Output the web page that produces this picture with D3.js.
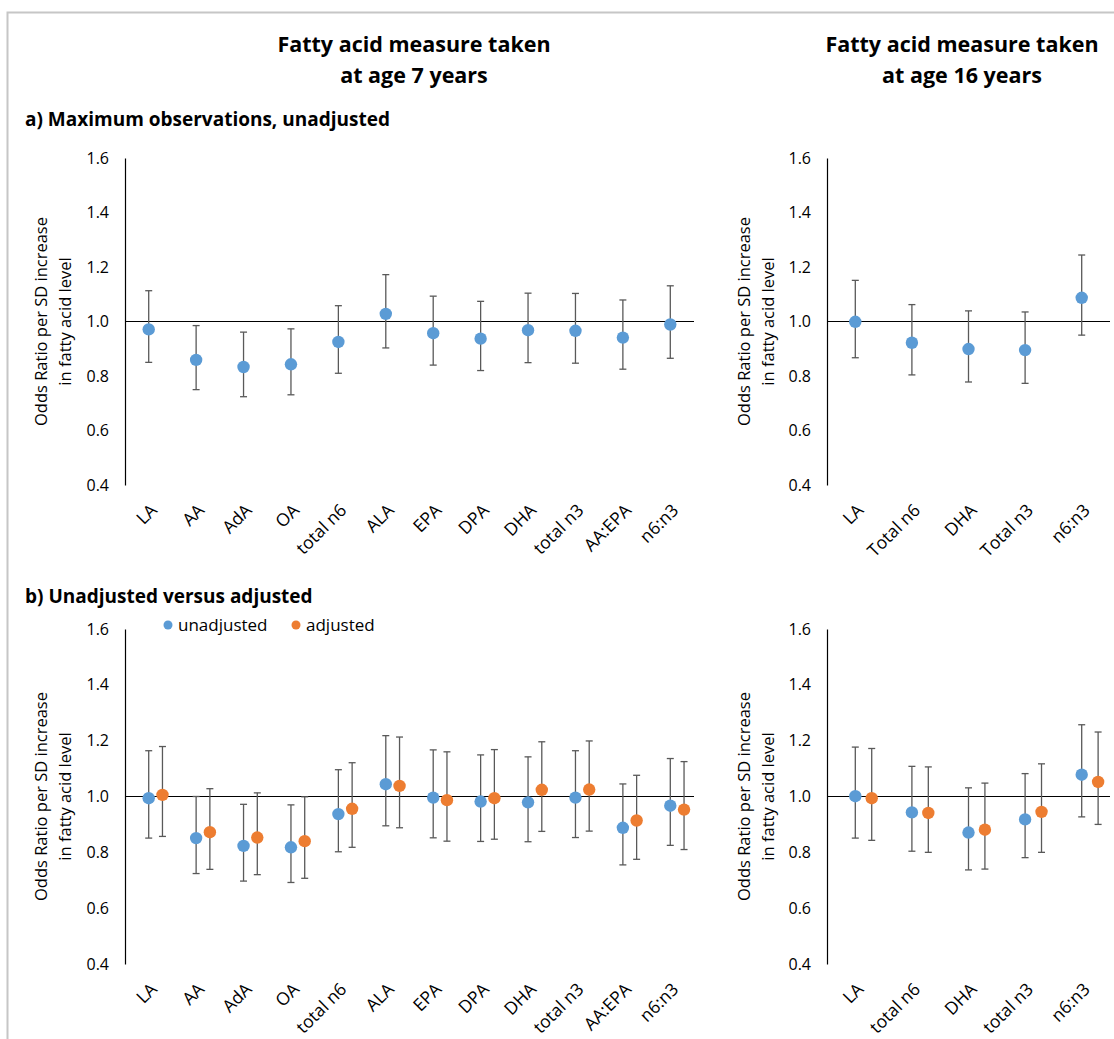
<!DOCTYPE html>
<html>
<head>
<meta charset="utf-8">
<script src="https://cdn.jsdelivr.net/npm/d3@7"></script>
<style>
  body { margin: 0; background: #fff; }
  svg text { font-family: "Open Sans", sans-serif; fill: #000; }
</style>
</head>
<body>
<div id="chart"></div>
<script>
'use strict';

// y ticks shared by all four panels
const yTicks = [0.4, 0.6, 0.8, 1.0, 1.2, 1.4, 1.6];

// a) age 7, unadjusted
const cats7 = ['LA', 'AA', 'AdA', 'OA', 'total n6', 'ALA', 'EPA', 'DPA', 'DHA', 'total n3', 'AA:EPA', 'n6:n3'];
const or7a = [0.971, 0.859, 0.833, 0.843, 0.925, 1.028, 0.957, 0.937, 0.968, 0.966, 0.941, 0.989];
const lo7a = [0.850, 0.750, 0.724, 0.731, 0.810, 0.903, 0.840, 0.820, 0.849, 0.847, 0.825, 0.865];
const hi7a = [1.113, 0.985, 0.961, 0.973, 1.058, 1.172, 1.093, 1.074, 1.104, 1.103, 1.079, 1.131];

// a) age 16, unadjusted
const cats16a = ['LA', 'Total n6', 'DHA', 'Total n3', 'n6:n3'];
const or16a = [0.999, 0.922, 0.899, 0.895, 1.087];
const lo16a = [0.867, 0.804, 0.778, 0.773, 0.950];
const hi16a = [1.151, 1.062, 1.039, 1.035, 1.244];

// b) age 7, unadjusted vs adjusted
const or7u = [0.994, 0.851, 0.823, 0.818, 0.937, 1.044, 0.996, 0.982, 0.979, 0.996, 0.888, 0.967];
const lo7u = [0.851, 0.724, 0.697, 0.692, 0.802, 0.895, 0.852, 0.839, 0.838, 0.853, 0.755, 0.825];
const hi7u = [1.164, 1.000, 0.972, 0.970, 1.096, 1.218, 1.167, 1.149, 1.142, 1.164, 1.045, 1.136];
const or7adj = [1.006, 0.872, 0.853, 0.840, 0.956, 1.038, 0.987, 0.994, 1.024, 1.025, 0.914, 0.953];
const lo7adj = [0.857, 0.739, 0.720, 0.707, 0.818, 0.888, 0.840, 0.847, 0.875, 0.876, 0.775, 0.810];
const hi7adj = [1.179, 1.028, 1.013, 0.999, 1.121, 1.213, 1.160, 1.168, 1.196, 1.199, 1.076, 1.125];

// b) age 16, unadjusted vs adjusted
const cats16b = ['LA', 'total n6', 'DHA', 'total n3', 'n6:n3'];
const or16u = [1.001, 0.943, 0.871, 0.918, 1.078];
const lo16u = [0.851, 0.804, 0.737, 0.781, 0.927];
const hi16u = [1.177, 1.108, 1.031, 1.082, 1.257];
const or16adj = [0.994, 0.941, 0.881, 0.945, 1.052];
const lo16adj = [0.843, 0.800, 0.740, 0.800, 0.900];
const hi16adj = [1.172, 1.106, 1.048, 1.117, 1.231];

const blue = '#5b9bd5', orange = '#ed7d31', barColor = '#595959';

const svg = d3.select('#chart').append('svg')
  .attr('width', 1114)
  .attr('height', 1039);

// frame (only top and left edges are in view)
svg.append('path')
  .attr('d', 'M7.5,1039V12.5H1114')
  .attr('fill', 'none')
  .attr('stroke', '#c6c6c6')
  .attr('stroke-width', 2);

// column titles
const titles = [
  { x: 414, lines: ['Fatty acid measure taken', 'at age 7 years'] },
  { x: 962, lines: ['Fatty acid measure taken', 'at age 16 years'] }
];
titles.forEach(t => {
  t.lines.forEach((s, i) => {
    svg.append('text')
      .attr('x', t.x).attr('y', 52 + i * 31)
      .attr('text-anchor', 'middle')
      .style('font-size', '21.5px').style('font-weight', 'bold')
      .text(s);
  });
});

svg.append('text').attr('x', 25).attr('y', 126)
  .style('font-size', '19px').style('font-weight', 'bold')
  .text('a) Maximum observations, unadjusted');
svg.append('text').attr('x', 25).attr('y', 603)
  .style('font-size', '19px').style('font-weight', 'bold')
  .text('b) Unadjusted versus adjusted');

// legend for panel b
const legend = [
  { x: 168, label: 'unadjusted', color: blue },
  { x: 296, label: 'adjusted', color: orange }
];
legend.forEach(l => {
  svg.append('circle').attr('cx', l.x).attr('cy', 625).attr('r', 4.5).attr('fill', l.color);
  svg.append('text').attr('x', l.x + 10).attr('y', 631)
    .style('font-size', '17px')
    .text(l.label);
});

const drawPanel = (opt) => {
  let xScale = d3.scaleBand()
    .domain(opt.cats)
    .range([opt.left, opt.right]);

  let yScale = d3.scaleLinear()
    .domain([0.4, 1.6])
    .range([opt.bottom, opt.top]);

  let g = svg.append('g');

  // y axis
  let yAxis = g.append('g')
    .attr('transform', 'translate(' + opt.left + ',0)')
    .call(d3.axisLeft(yScale).tickValues(yTicks).tickSize(0).tickSizeOuter(0)
      .tickPadding(16).tickFormat(d3.format('.1f')));
  yAxis.select('.domain').attr('stroke', '#000').attr('stroke-width', 1.2);
  yAxis.selectAll('text').style('font-size', '16px').style('font-family', '"Open Sans", sans-serif').attr('fill', '#000');

  // reference line at 1.0
  g.append('line')
    .attr('x1', opt.left).attr('x2', opt.right)
    .attr('y1', yScale(1)).attr('y2', yScale(1))
    .attr('stroke', '#000').attr('stroke-width', 1.2);

  // y title, two lines
  let yMid = (opt.top + opt.bottom) / 2;
  ['Odds Ratio per SD increase', 'in fatty acid level'].forEach((s, i) => {
    g.append('text')
      .attr('transform', 'translate(' + (opt.labelX + i * 24) + ',' + yMid + ') rotate(-90)')
      .attr('text-anchor', 'middle')
      .attr('dy', '0.35em')
      .style('font-size', '16.5px')
      .text(s);
  });

  // category labels
  g.selectAll('.cat')
    .data(opt.cats)
    .enter().append('text')
    .attr('transform', d => 'translate(' + (xScale(d) + xScale.bandwidth() / 2 + 5) + ',' + (opt.bottom + 22) + ') rotate(-45)')
    .attr('text-anchor', 'end')
    .attr('dy', '0.35em')
    .style('font-size', '17.5px')
    .text(d => d);

  // series: error bars and points
  opt.series.forEach(s => {
    let data = opt.cats.map((c, i) => ({ c: c, v: s.or[i], lo: s.lo[i], hi: s.hi[i] }));
    let cx = d => xScale(d.c) + xScale.bandwidth() / 2 + s.shift * xScale.bandwidth();

    let bars = g.append('g').attr('stroke', barColor).attr('stroke-width', 1.3);
    bars.selectAll('.bar').data(data).enter().append('line')
      .attr('x1', cx).attr('x2', cx)
      .attr('y1', d => yScale(d.lo)).attr('y2', d => yScale(d.hi));
    bars.selectAll('.capHi').data(data).enter().append('line')
      .attr('x1', d => cx(d) - 3.5).attr('x2', d => cx(d) + 3.5)
      .attr('y1', d => yScale(d.hi)).attr('y2', d => yScale(d.hi));
    bars.selectAll('.capLo').data(data).enter().append('line')
      .attr('x1', d => cx(d) - 3.5).attr('x2', d => cx(d) + 3.5)
      .attr('y1', d => yScale(d.lo)).attr('y2', d => yScale(d.lo));

    g.append('g').selectAll('circle').data(data).enter().append('circle')
      .attr('cx', cx)
      .attr('cy', d => yScale(d.v))
      .attr('r', 6.2)
      .attr('fill', s.color);
  });
};

drawPanel({
  cats: cats7, left: 125, right: 694, top: 158, bottom: 485, labelX: 41,
  series: [{ or: or7a, lo: lo7a, hi: hi7a, color: blue, shift: 0 }]
});
drawPanel({
  cats: cats16a, left: 827, right: 1110, top: 158, bottom: 485, labelX: 744,
  series: [{ or: or16a, lo: lo16a, hi: hi16a, color: blue, shift: 0 }]
});
drawPanel({
  cats: cats7, left: 125, right: 694, top: 629, bottom: 964, labelX: 41,
  series: [
    { or: or7u, lo: lo7u, hi: hi7u, color: blue, shift: 0 },
    { or: or7adj, lo: lo7adj, hi: hi7adj, color: orange, shift: 0.29 }
  ]
});
drawPanel({
  cats: cats16b, left: 827, right: 1110, top: 629, bottom: 964, labelX: 744,
  series: [
    { or: or16u, lo: lo16u, hi: hi16u, color: blue, shift: 0 },
    { or: or16adj, lo: lo16adj, hi: hi16adj, color: orange, shift: 0.29 }
  ]
});
</script>
</body>
</html>
